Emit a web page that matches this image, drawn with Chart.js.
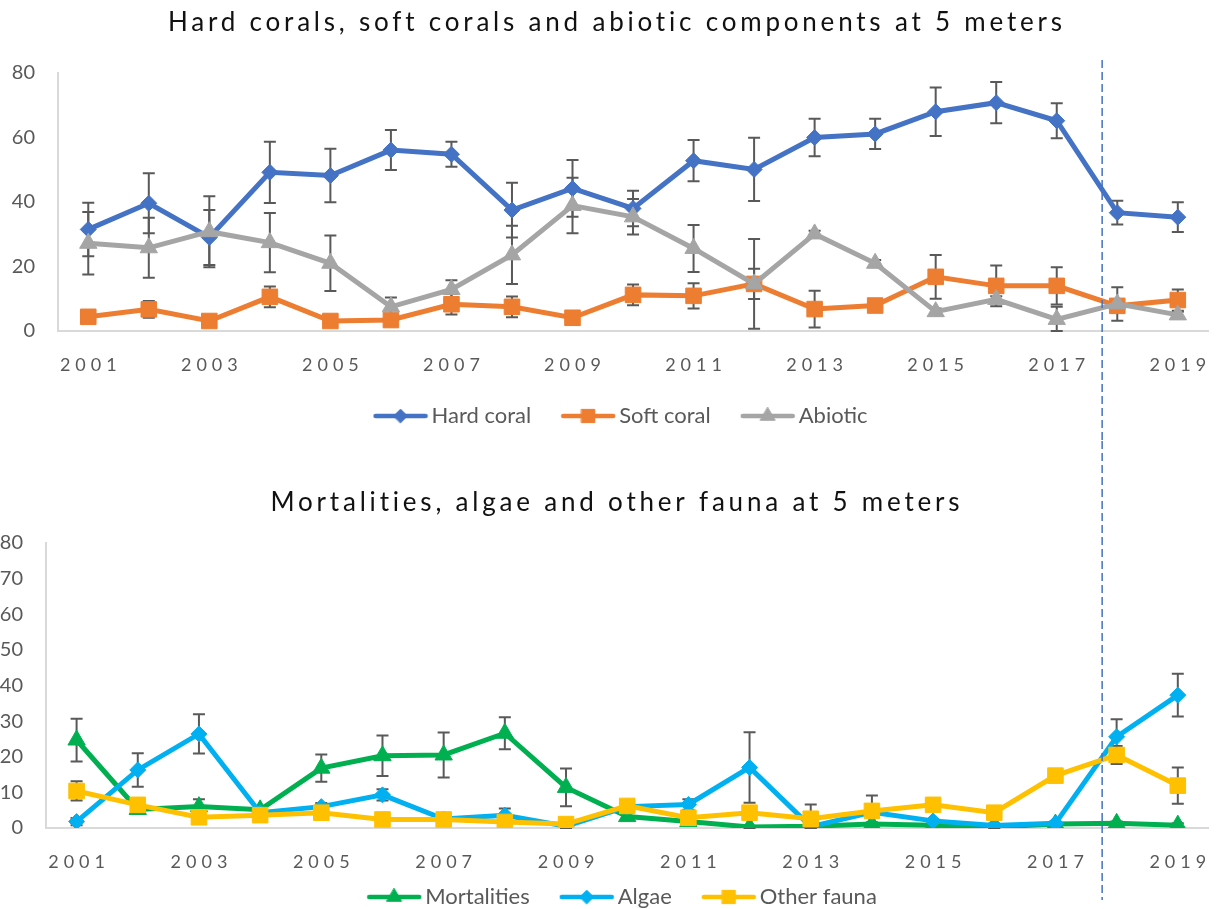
<!DOCTYPE html>
<html>
<head>
<meta charset="utf-8">
<title>Reef cover at 5 meters</title>
<script src="https://cdn.jsdelivr.net/npm/chart.js"></script>
<style>
  html, body { margin: 0; padding: 0; background: #fff; overflow: hidden; }
  #wrap { position: relative; width: 1222px; height: 909px; overflow: hidden; }
  canvas { position: absolute; }
  #coralChart { left: 0; top: 0; }
  #faunaChart { left: -12px; top: 440px; }
</style>
</head>
<body>
<div id="wrap">
  <canvas id="coralChart" width="1222" height="450"></canvas>
  <canvas id="faunaChart" width="1234" height="508"></canvas>
</div>
<script>
// ---- data ----
const years = ['2001', '2002', '2003', '2004', '2005', '2006', '2007', '2008', '2009', '2010',
               '2011', '2012', '2013', '2014', '2015', '2016', '2017', '2018', '2019'];
const yearLabels = ['2001', '2003', '2005', '2007', '2009', '2011', '2013', '2015', '2017', '2019'];
const coralTicks = [0, 20, 40, 60, 80];
const faunaTicks = [0, 10, 20, 30, 40, 50, 60, 70, 80];

const hardCoral    = [31.5, 39.6, 29.0, 49.2, 48.2, 56.1, 54.8, 37.5, 44.2, 38.0, 52.8, 50.1, 60.0, 61.1, 68.0, 70.8, 65.2, 36.7, 35.3];
const hardCoralErr = [8.3, 9.3, 8.5, 9.5, 8.3, 6.2, 3.9, 8.5, 8.8, 5.5, 6.4, 9.8, 5.8, 4.7, 7.5, 6.4, 5.4, 3.7, 4.6];
const softCoral    = [4.4, 6.7, 3.1, 10.6, 3.1, 3.4, 8.3, 7.5, 4.1, 11.2, 10.9, 14.6, 6.8, 7.9, 16.8, 14.0, 14.0, 7.8, 9.6];
const softCoralErr = [1.0, 2.6, 1.0, 3.2, 1.0, 1.0, 3.2, 3.2, 1.0, 3.2, 3.9, 4.7, 5.7, 1.0, 6.8, 6.3, 5.8, 2.0, 3.3];
const abiotic      = [27.2, 25.8, 30.8, 27.4, 21.0, 7.5, 12.9, 23.6, 38.9, 35.4, 25.6, 14.6, 30.1, 21.0, 6.0, 9.8, 3.6, 8.4, 5.0];
const abioticErr   = [9.7, 9.3, 11.0, 9.2, 8.6, 2.9, 2.8, 9.0, 8.6, 5.5, 7.3, 13.9, 1.0, 1.0, 1.0, 1.0, 3.9, 5.2, 1.0];

const mortalities    = [24.7, 5.2, 6.0, 5.1, 16.8, 20.3, 20.5, 26.6, 11.4, 3.2, 1.8, 0.3, 0.5, 1.1, 0.8, 0.3, 1.1, 1.3, 0.8];
const mortalitiesErr = [6.0, 1.0, 2.1, 1.0, 3.8, 5.7, 6.3, 4.5, 5.3, 1.0, 0.5, 0.3, 0.3, 0.5, 0.5, 0.3, 0.5, 0.5, 0.5];
const algae          = [1.8, 16.3, 26.4, 4.3, 6.0, 9.3, 2.5, 3.6, 0.5, 6.0, 6.6, 17.0, 0.4, 4.4, 2.0, 0.7, 1.3, 25.6, 37.3];
const algaeErr       = [1.0, 4.7, 5.5, 1.0, 1.0, 1.6, 0.5, 1.9, 0.5, 0.5, 1.5, 9.9, 0.5, 1.0, 0.5, 0.5, 0.5, 4.9, 6.0];
const otherFauna     = [10.4, 6.5, 3.0, 3.6, 4.3, 2.4, 2.4, 1.7, 1.1, 6.2, 2.9, 4.3, 2.6, 4.8, 6.5, 4.3, 14.7, 20.5, 11.9];
const otherFaunaErr  = [2.7, 1.0, 1.0, 1.0, 1.0, 1.0, 1.0, 1.0, 1.0, 1.0, 1.0, 1.0, 4.0, 4.3, 1.0, 1.0, 1.0, 2.5, 5.1];

// category position of the dashed separator (between 2017 and 2018)
const dividerAt = 16.75;

const FONT = 'Lato';
const GREY_TEXT = '#595959';

// small "line + marker" picture used as the legend symbol
function legendIcon(color, style, radius) {
  const c = document.createElement('canvas');
  c.width = 56; c.height = 20;
  const g = c.getContext('2d');
  g.strokeStyle = color;
  g.fillStyle = color;
  g.lineWidth = 4.5;
  g.lineCap = 'round';
  g.beginPath(); g.moveTo(3, 10); g.lineTo(53, 10); g.stroke();
  g.lineWidth = 1;
  Chart.helpers.drawPoint(g, { pointStyle: style, radius: radius, borderWidth: 1, rotation: 0 }, 28, 10);
  return c;
}

function series(label, data, errors, color, style, radius, order) {
  return {
    label, data, errors, order,
    borderColor: color,
    backgroundColor: color,
    borderWidth: 5,
    tension: 0,
    pointStyle: style,
    pointRadius: radius,
    pointHoverRadius: radius,
    pointBorderWidth: 1,
    legendIcon: legendIcon(color, style, radius * 0.85)
  };
}

// vertical error bars, taken from dataset.errors
const errorBars = {
  id: 'errorBars',
  beforeDatasetsDraw(chart, args, opts) {
    const { ctx } = chart;
    const yScale = chart.scales.y;
    ctx.save();
    ctx.strokeStyle = opts.color;
    ctx.lineWidth = opts.width;
    chart.data.datasets.forEach((ds, di) => {
      const meta = chart.getDatasetMeta(di);
      ds.errors.forEach((e, i) => {
        const pt = meta.data[i];
        if (!pt || !e) return;
        const v = ds.data[i];
        const top = yScale.getPixelForValue(v + e);
        const bottom = yScale.getPixelForValue(Math.max(0, v - e));
        ctx.beginPath();
        ctx.moveTo(pt.x, top); ctx.lineTo(pt.x, bottom);
        ctx.moveTo(pt.x - opts.cap, top); ctx.lineTo(pt.x + opts.cap, top);
        ctx.moveTo(pt.x - opts.cap, bottom); ctx.lineTo(pt.x + opts.cap, bottom);
        ctx.stroke();
      });
    });
    ctx.restore();
  }
};

// dashed separator running through both panels
const divider = {
  id: 'divider',
  afterDraw(chart, args, opts) {
    const x = opts.x(chart);
    const { ctx } = chart;
    ctx.save();
    ctx.strokeStyle = '#4472C4';
    ctx.lineWidth = 1.5;
    ctx.setLineDash([8, 4]);
    ctx.beginPath();
    ctx.moveTo(x, opts.from);
    ctx.lineTo(x, opts.to);
    ctx.stroke();
    ctx.restore();
  }
};

// letter spacing for title and year labels, plus nudges for title and legend
function wrapDraw(obj, method, ctx, before) {
  const orig = obj[method].bind(obj);
  obj[method] = (area) => {
    ctx.save();
    before();
    orig(area);
    ctx.restore();
  };
}

const textPlacement = {
  id: 'textPlacement',
  beforeDraw(chart, args, opts) {
    if (chart.$placed) return;
    chart.$placed = true;
    const ctx = chart.ctx;
    wrapDraw(chart.titleBlock, 'draw', ctx, () => {
      ctx.letterSpacing = opts.title + 'px';
      ctx.translate(opts.titleShift + opts.title / 2, 0);
    });
    wrapDraw(chart.legend, 'draw', ctx, () => {
      ctx.translate(opts.legendShift[0], opts.legendShift[1]);
    });
    wrapDraw(chart.scales.x, 'drawLabels', ctx, () => {
      ctx.letterSpacing = opts.ticks + 'px';
      ctx.translate(opts.ticks / 2, 0);
    });
  }
};

function buildChart(canvasId, titleText, datasets, o) {
  return new Chart(document.getElementById(canvasId), {
    type: 'line',
    data: { labels: years, datasets: datasets },
    options: {
      responsive: false,
      animation: false,
      events: [],
      layout: { padding: o.padding },
      scales: {
        x: {
          offset: true,
          grid: { display: false, drawTicks: false },
          border: { display: true, color: '#d9d9d9', width: 2 },
          ticks: {
            autoSkip: false, maxRotation: 0, padding: 23,
            color: GREY_TEXT, font: { family: FONT, size: 18 },
            callback(value) {
              const y = this.getLabelForValue(value);
              return yearLabels.includes(y) ? y : '';
            }
          },
          afterFit(s) { s.height = 48; }
        },
        y: {
          min: 0, max: 80,
          grid: { display: false, drawTicks: false },
          border: { display: true, color: '#d9d9d9', width: 2 },
          ticks: { padding: 23, color: GREY_TEXT, font: { family: FONT, size: 20 } },
          afterBuildTicks(s) { s.ticks = o.yTicks.map(v => ({ value: v })); },
          afterFit(s) { s.width = 58; }
        }
      },
      plugins: {
        title: {
          display: true,
          text: titleText,
          color: '#111',
          font: { family: FONT, size: 26, weight: 'normal', lineHeight: 1.2 },
          padding: o.titlePadding
        },
        legend: {
          position: 'bottom',
          labels: {
            usePointStyle: true,
            pointStyleWidth: 40,
            padding: 37,
            color: GREY_TEXT,
            font: { family: FONT, size: 22 },
            generateLabels(chart) {
              const items = Chart.defaults.plugins.legend.labels.generateLabels(chart);
              items.forEach(it => { it.pointStyle = chart.data.datasets[it.datasetIndex].legendIcon; });
              return items;
            },
            sort: (a, b) => a.datasetIndex - b.datasetIndex
          }
        },
        tooltip: { enabled: false },
        errorBars: { color: '#595959', width: 2, cap: 6 },
        divider: o.divider,
        textPlacement: { title: 3.8, titleShift: o.titleShift, ticks: 5, legendShift: o.legendShift }
      }
    },
    plugins: [errorBars, divider, textPlacement]
  });
}

const coralChart = buildChart('coralChart',
  'Hard corals, soft corals and abiotic components at 5 meters',
  [
    series('Hard coral', hardCoral, hardCoralErr, '#4472C4', 'rectRot', 8, 3),
    series('Soft coral', softCoral, softCoralErr, '#ED7D31', 'rect', 11, 2),
    series('Abiotic', abiotic, abioticErr, '#A5A5A5', 'triangle', 10, 1)
  ],
  {
    padding: { left: 0, right: 10, top: 0, bottom: 2 },
    yTicks: coralTicks,
    titlePadding: { top: 7.4, bottom: 34.4 }, titleShift: 9,
    legendShift: [18, -11],
    divider: { x: c => c.scales.x.getPixelForValue(dividerAt), from: 60, to: 441 }
  });

const topCanvas = document.getElementById('coralChart');
const bottomCanvas = document.getElementById('faunaChart');
const dividerX = coralChart.scales.x.getPixelForValue(dividerAt) + (topCanvas.offsetLeft - bottomCanvas.offsetLeft);

buildChart('faunaChart',
  'Mortalities, algae and other fauna at 5 meters',
  [
    series('Mortalities', mortalities, mortalitiesErr, '#00B050', 'triangle', 10, 3),
    series('Algae', algae, algaeErr, '#00B0F0', 'rectRot', 8, 2),
    series('Other fauna', otherFauna, otherFaunaErr, '#FFC000', 'rect', 11, 1)
  ],
  {
    padding: { left: 0, right: 6, top: 0, bottom: 3 },
    yTicks: faunaTicks,
    titlePadding: { top: 47.4, bottom: 24.4 }, titleShift: 13,
    legendShift: [23.5, -27],
    divider: { x: () => dividerX, from: 1, to: 460 }
  });
</script>
</body>
</html>
